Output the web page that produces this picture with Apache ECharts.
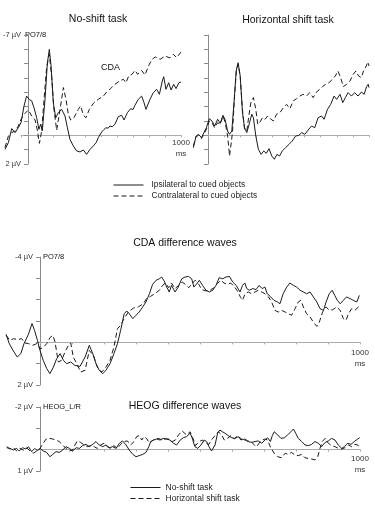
<!DOCTYPE html>
<html>
<head>
<meta charset="utf-8">
<script src="https://cdn.jsdelivr.net/npm/echarts@6/dist/echarts.min.js"></script>
<style>
html, body { margin: 0; padding: 0; background: #fff; }
#box { width: 375px; height: 505px; }
</style>
</head>
<body>
<div id="box"></div>
<script>
// [ms, µV] (negative plotted up)
const noShiftIpsi = [[-100,0.98],[-79,0.51],[-58,-0.47],[-37,-0.19],[-17,-0.53],[0,-0.88],[19,-2.05],[35,-2.74],[52,-2.5],[67,-2.4],[81,-1.93],[98,-1.23],[112,-0.42],[123,-0.77],[133,-0.3],[150,-2.5],[165,-5.07],[177,-6.0],[188,-4.84],[202,-2.28],[217,-1.23],[233,-1.58],[254,-1.81],[275,-1.35],[290,-0.53],[306,0.28],[327,0.74],[348,1.09],[369,1.16],[390,1.02],[410,1.33],[431,0.98],[452,0.74],[470,0.5],[483,0.16],[504,-0.23],[518,-0.4],[531,-0.53],[545,-0.5],[556,-0.65],[570,-0.6],[587,-0.77],[608,-1.3],[629,-1.4],[644,-1.07],[665,-1.58],[685,-1.86],[700,-1.8],[712,-2.09],[733,-2.51],[754,-2.74],[769,-2.28],[781,-1.81],[806,-2.51],[827,-2.98],[848,-3.21],[865,-2.86],[883,-3.79],[892,-4.09],[906,-3.21],[923,-3.67],[938,-3.16],[954,-3.56],[969,-3.26],[987,-3.67],[1000,-3.72]];
const noShiftContra = [[-100,0.86],[-79,0.05],[-58,-0.19],[-37,-0.3],[-17,-0.65],[0,-1.12],[25,-1.53],[46,-1.77],[67,-1.35],[88,-1.07],[102,-0.37],[115,0.56],[129,-0.3],[144,-2.51],[160,-4.72],[177,-5.65],[192,-4.02],[206,-1.81],[223,-0.35],[244,-1.81],[265,-3.33],[281,-2.51],[296,-1.47],[310,-1.07],[331,-1.23],[358,-1.81],[373,-2.05],[390,-1.4],[406,-1.23],[427,-1.81],[452,-2.23],[483,-2.51],[515,-2.74],[535,-3.02],[560,-3.26],[587,-3.56],[615,-3.79],[640,-3.91],[656,-3.67],[673,-4.14],[694,-4.26],[712,-4.53],[729,-4.26],[754,-4.53],[775,-4.21],[790,-4.65],[802,-4.95],[819,-5.3],[840,-5.47],[869,-5.3],[900,-5.53],[931,-5.4],[952,-5.65],[973,-5.42],[1000,-5.81]];

const horizIpsi = [[-91,0.86],[-74,0.05],[-58,-0.07],[-41,0.16],[-25,-0.19],[-10,-0.53],[8,-1.16],[25,-1.0],[41,-0.65],[60,-1.12],[76,-0.84],[93,-1.4],[107,-1.07],[122,-0.3],[134,-0.07],[148,-0.3],[163,-2.51],[175,-4.49],[187,-5.07],[200,-4.14],[214,-1.58],[227,-0.53],[241,-0.19],[258,-0.88],[272,-1.47],[282,-1.23],[297,0.05],[313,0.98],[330,1.33],[346,1.09],[362,1.26],[379,0.93],[396,1.44],[412,1.67],[428,1.33],[445,1.44],[461,1.09],[482,0.86],[503,0.63],[523,0.4],[544,0.05],[564,0],[581,-0.19],[601,-0.07],[622,-0.37],[643,-0.65],[663,-0.53],[684,-1.23],[705,-1.35],[721,-1.12],[742,-1.81],[762,-2.16],[783,-2.74],[799,-2.51],[820,-2.86],[837,-2.28],[853,-2.63],[870,-2.98],[891,-2.74],[911,-2.98],[932,-2.74],[953,-3.02],[970,-2.86],[985,-3.4],[995,-3.56],[1000,-3.33]];
const horizContra = [[-91,0.74],[-74,0.09],[-58,0],[-41,0.23],[-25,-0.07],[-10,-0.42],[8,-1.0],[25,-0.88],[41,-0.53],[60,-0.88],[76,-0.77],[93,-1.35],[107,-0.88],[122,0.05],[134,1.44],[142,1.33],[152,-0.19],[165,-2.74],[177,-4.6],[187,-4.95],[200,-4.14],[214,-1.81],[227,-0.42],[241,-0.3],[255,-1.47],[268,-2.4],[282,-2.63],[297,-1.81],[309,-0.77],[323,-0.93],[338,-1.23],[354,-1.12],[371,-1.35],[387,-1.16],[406,-1.0],[426,-1.47],[447,-1.58],[468,-1.93],[488,-2.16],[509,-1.86],[529,-2.4],[550,-2.56],[570,-2.74],[591,-2.86],[612,-2.74],[632,-2.98],[653,-2.63],[674,-3.02],[694,-3.21],[711,-3.4],[731,-3.56],[752,-3.67],[772,-3.91],[791,-4.14],[807,-4.49],[824,-4.02],[840,-3.4],[861,-3.56],[882,-3.79],[902,-4.26],[919,-4.49],[935,-4.14],[952,-4.02],[966,-4.49],[983,-4.84],[993,-5.12],[1000,-4.84]];

const cdaNoShift = [[-106,-0.38],[-96,0.06],[-83,0.41],[-71,0.69],[-60,0.53],[-50,0.06],[-36,-0.38],[-25,-0.88],[-17,-0.56],[-8,-0.09],[0,0.38],[10,0.84],[21,1.23],[31,1.47],[42,1.16],[52,0.77],[63,0.53],[73,0.84],[83,1.0],[96,0.92],[109,1.08],[125,1.13],[141,0.69],[154,0.14],[165,0.53],[175,1.0],[185,1.31],[196,1.47],[206,1.31],[219,1.0],[231,0.53],[242,0.06],[252,-0.56],[263,-1.34],[271,-1.47],[279,-1.34],[290,-1.11],[300,-1.27],[310,-1.42],[321,-1.66],[331,-1.89],[342,-2.28],[352,-2.72],[363,-2.91],[373,-2.98],[380,-3.06],[388,-2.88],[396,-2.59],[404,-2.36],[411,-2.67],[422,-2.36],[432,-2.59],[443,-2.98],[453,-3.06],[464,-3.09],[474,-2.98],[481,-2.59],[490,-2.75],[498,-2.91],[508,-2.67],[519,-2.44],[529,-2.36],[540,-2.44],[550,-2.67],[560,-3.03],[571,-2.98],[581,-3.06],[592,-3.09],[602,-2.83],[613,-2.67],[625,-2.36],[633,-2.67],[640,-2.78],[646,-2.52],[654,-2.44],[665,-2.52],[675,-2.47],[685,-2.67],[694,-2.52],[703,-2.59],[710,-2.28],[721,-2.13],[731,-1.97],[742,-1.89],[750,-1.81],[760,-2.28],[771,-2.59],[781,-2.78],[792,-2.67],[802,-2.59],[813,-2.44],[823,-2.36],[833,-2.28],[844,-2.36],[854,-2.13],[865,-1.89],[875,-1.58],[886,-1.5],[894,-1.89],[904,-2.28],[913,-2.44],[921,-2.2],[929,-1.97],[938,-1.81],[948,-1.97],[958,-2.13],[969,-2.05],[979,-1.97],[990,-1.89],[998,-2.2]];
const cdaHoriz = [[-106,-0.33],[-94,-0.09],[-83,-0.17],[-71,-0.13],[-57,-0.17],[-47,0.03],[-36,0.06],[-23,0.14],[-10,0.06],[0,0.3],[10,0.25],[21,0.06],[31,-0.22],[40,-0.33],[47,-0.02],[57,0.92],[68,0.84],[78,0.45],[89,0.14],[96,0.03],[104,0.69],[115,1.0],[127,1.39],[141,1.31],[154,0.38],[167,0.61],[179,1.16],[193,1.39],[206,1.16],[219,0.84],[231,0.22],[242,-0.64],[252,-0.8],[260,-1.03],[276,-1.42],[292,-1.61],[307,-1.66],[323,-1.81],[333,-2.05],[346,-2.16],[359,-2.28],[373,-2.44],[383,-2.67],[392,-2.78],[402,-2.56],[411,-2.78],[422,-2.52],[433,-2.67],[444,-2.83],[454,-2.72],[465,-2.56],[475,-2.75],[485,-2.91],[496,-2.72],[506,-2.47],[519,-2.41],[531,-2.44],[544,-2.56],[554,-2.75],[565,-2.91],[575,-2.78],[585,-2.72],[596,-2.78],[606,-2.63],[617,-2.41],[627,-2.1],[633,-1.97],[641,-2.28],[651,-2.36],[661,-2.28],[672,-2.36],[682,-2.44],[693,-2.36],[703,-2.28],[714,-2.13],[724,-1.89],[734,-1.5],[745,-1.42],[755,-1.5],[766,-1.42],[776,-1.34],[786,-1.27],[797,-1.58],[807,-1.89],[815,-1.97],[823,-1.66],[833,-1.34],[844,-1.19],[854,-0.95],[865,-0.75],[873,-0.95],[883,-1.42],[894,-1.66],[904,-1.5],[915,-1.53],[927,-1.66],[938,-1.5],[948,-1.11],[956,-1.03],[964,-1.34],[974,-1.58],[984,-1.5],[995,-1.66],[998,-1.63]];

const heogNoShift = [[-104,-0.09],[-94,-0.06],[-83,0.02],[-73,-0.06],[-65,0.06],[-54,-0.09],[-44,-0.03],[-36,-0.14],[-26,0.09],[-16,-0.06],[-8,0.06],[0,-0.06],[10,0.06],[21,0.13],[31,0.33],[40,0.22],[50,0.09],[60,0.13],[71,0.02],[81,-0.14],[92,-0.06],[102,0.06],[113,-0.09],[123,-0.06],[133,-0.19],[144,-0.25],[154,-0.14],[165,-0.25],[175,-0.38],[185,-0.22],[196,-0.14],[206,-0.22],[217,-0.09],[227,-0.14],[238,-0.06],[248,-0.3],[258,-0.41],[269,-0.22],[279,0.02],[290,0.22],[300,0.33],[310,0.28],[321,0.22],[331,0.13],[340,-0.14],[346,-0.38],[354,-0.45],[365,-0.5],[375,-0.45],[385,-0.53],[396,-0.5],[406,-0.45],[417,-0.3],[427,-0.22],[438,-0.45],[448,-0.56],[458,-0.61],[469,-0.77],[476,-0.53],[484,-0.14],[493,-0.06],[503,-0.22],[513,-0.45],[521,-0.38],[528,-0.14],[536,0.06],[547,-0.22],[555,-0.77],[562,-0.92],[570,-0.84],[578,-0.77],[588,-0.66],[599,-0.56],[609,-0.53],[620,-0.61],[630,-0.5],[641,-0.45],[651,-0.38],[661,-0.34],[672,-0.38],[682,-0.41],[693,-0.3],[703,-0.45],[711,-0.56],[720,-0.38],[726,-0.66],[732,-0.84],[743,-0.69],[753,-0.53],[764,-0.56],[774,-0.69],[784,-0.84],[792,-0.97],[799,-0.77],[807,-0.53],[818,-0.38],[828,-0.22],[839,-0.19],[849,-0.25],[859,-0.38],[870,-0.3],[880,-0.14],[891,-0.34],[901,-0.41],[911,-0.53],[922,-0.45],[932,-0.22],[943,-0.06],[951,-0.14],[961,-0.3],[972,-0.25],[982,-0.38],[993,-0.5],[999,-0.56]];
const heogHoriz = [[-104,-0.14],[-94,-0.03],[-83,-0.09],[-73,0.06],[-63,-0.06],[-52,0.02],[-42,-0.09],[-31,0.06],[-21,0.17],[-10,0.06],[0,-0.06],[10,-0.3],[19,-0.5],[29,-0.53],[40,-0.5],[50,-0.45],[60,-0.38],[71,-0.22],[81,-0.06],[92,0.06],[102,0.02],[109,-0.22],[117,-0.41],[127,-0.34],[138,-0.22],[148,-0.14],[158,-0.19],[169,-0.14],[179,-0.06],[190,-0.22],[200,-0.3],[210,-0.14],[221,-0.06],[231,-0.19],[242,-0.06],[252,-0.25],[263,-0.38],[273,-0.41],[283,-0.22],[294,-0.38],[302,-0.61],[310,-0.66],[318,-0.45],[325,-0.61],[333,-0.53],[342,-0.3],[350,-0.41],[361,-0.5],[371,-0.53],[381,-0.45],[392,-0.5],[402,-0.5],[413,-0.38],[423,-0.45],[433,-0.69],[444,-0.88],[450,-0.9],[458,-0.69],[469,-0.84],[476,-0.61],[486,-0.19],[497,-0.38],[507,-0.45],[518,-0.3],[528,-0.25],[538,-0.5],[549,-0.69],[557,-0.84],[568,-0.69],[576,-0.45],[586,-0.53],[597,-0.66],[607,-0.5],[618,-0.66],[628,-0.45],[638,-0.53],[649,-0.41],[659,-0.38],[670,-0.22],[677,-0.14],[684,-0.3],[695,-0.45],[703,-0.5],[711,-0.45],[722,-0.06],[732,0.17],[743,0.33],[755,0.38],[766,0.17],[776,0.22],[786,0.13],[797,0.25],[807,0.28],[818,0.22],[828,0.38],[839,0.41],[849,0.44],[859,0.48],[868,0.33],[875,-0.06],[882,-0.38],[891,-0.53],[901,-0.3],[911,-0.19],[922,-0.14],[932,-0.06],[943,-0.03],[953,-0.09],[964,-0.22],[974,-0.14],[984,-0.25],[993,-0.22],[999,-0.06]];

// axis ranges (µV), end labels, legends
const yRanges = [[-7, 2], [-7, 2], [-4, 2], [-2, 1]];
const yEndLabels = [["-7 µV", "2 µV"], ["", ""], ["-4 µV", "2 µV"], ["-2 µV", "1 µV"]];
const xEndLabel = ["1000\nms", "", "1000\nms", "1000\nms"];
const tStart = -110, tEnd = 1000;
const legendTop = ["Ipsilateral to cued objects", "Contralateral to cued objects"];
const legendBottom = ["No-shift task", "Horizontal shift task"];

const font = "Liberation Sans, Arial, sans-serif";
const ink = "#1a1a1a";
const axisCol = "#8a8a8a";
const zeroCol = "#aaaaaa";

let myCharts = echarts.init(document.getElementById("box"));

// pixel boxes for the four panels: left/width = 0..1000 ms
const boxes = [
	{ left: 21, top: 35, width: 160, height: 129, xMargin: 2 },
	{ left: 208, top: 35, width: 161, height: 129, xMargin: 2 },
	{ left: 40, top: 257, width: 320, height: 128, xMargin: 5 },
	{ left: 40, top: 407, width: 320, height: 64, xMargin: 4 },
];

let grid = [], xAxis = [], yAxis = [];
boxes.forEach((b, i) => {
	const [lo, hi] = yRanges[i];
	const pxPerMs = b.width / 1000;
	// data grid (axes hidden), reaches back into the baseline
	grid.push({ left: b.left + tStart * pxPerMs, top: b.top, width: (tEnd - tStart) * pxPerMs, height: b.height });
	xAxis.push({ gridIndex: 3 * i, type: "value", min: tStart, max: tEnd, show: false });
	yAxis.push({ gridIndex: 3 * i, type: "value", inverse: true, min: lo, max: hi, show: false });

	// y axis at 0 ms
	grid.push({ left: b.left, top: b.top, width: b.width, height: b.height });
	xAxis.push({ gridIndex: 3 * i + 1, type: "value", min: 0, max: 1000, show: false });
	yAxis.push({
		gridIndex: 3 * i + 1, type: "value", inverse: true, min: lo, max: hi, interval: 1,
		axisLine: { show: true, lineStyle: { color: axisCol, width: 1 } },
		axisTick: { show: true, length: 4, lineStyle: { color: axisCol } },
		splitLine: { show: false },
		axisLabel: {
			margin: 7, fontSize: 7.5, fontFamily: font, color: "#333",
			showMinLabel: true, showMaxLabel: true,
			formatter: (v) => (v === lo ? yEndLabels[i][0] : v === hi ? yEndLabels[i][1] : ""),
		},
	});

	// time axis along 0 µV
	grid.push({ left: b.left, top: b.top, width: b.width, height: b.height * (0 - lo) / (hi - lo) });
	yAxis.push({ gridIndex: 3 * i + 2, type: "value", min: 0, max: 1, show: false });
	xAxis.push({
		gridIndex: 3 * i + 2, type: "value", min: 0, max: 1000, interval: 100,
		axisLine: { show: true, onZero: false, lineStyle: { color: zeroCol, width: 1 } },
		axisTick: { show: true, length: 2, lineStyle: { color: zeroCol } },
		splitLine: { show: false },
		axisLabel: {
			showMinLabel: true, showMaxLabel: true, margin: b.xMargin,
			fontSize: 8, fontFamily: font, color: "#333", lineHeight: 11,
			formatter: (v) => (v === 1000 ? xEndLabel[i] : ""),
		},
	});
});

function wave(name, data, panel, dashed) {
	return {
		name: name, type: "line", data: data,
		xAxisIndex: 3 * panel, yAxisIndex: 3 * panel,
		symbol: "none", clip: false, animation: false,
		lineStyle: { color: ink, width: 1, type: dashed ? [5, 3] : "solid" },
		itemStyle: { color: ink },
	};
}

function label(text, x, y, size, align) {
	return {
		type: "text", x: x, y: y,
		style: { text: text, fontSize: size, fontFamily: font, fill: "#111", textAlign: align || "left", textVerticalAlign: "middle" },
	};
}

let option = {
	animation: false,
	grid: grid,
	xAxis: xAxis,
	yAxis: yAxis,
	legend: [
		{
			data: legendTop, orient: "vertical", left: 113, top: 181, padding: 0,
			itemWidth: 30, itemHeight: 9, itemGap: 3, selectedMode: false,
			itemStyle: { opacity: 0 }, lineStyle: { width: 1 },
			textStyle: { fontSize: 8.3, fontFamily: font, color: "#222", padding: [0, 0, 0, 3] },
		},
		{
			data: legendBottom, orient: "vertical", left: 130, top: 483, padding: 0,
			itemWidth: 30, itemHeight: 9, itemGap: 2, selectedMode: false,
			itemStyle: { opacity: 0 }, lineStyle: { width: 1 },
			textStyle: { fontSize: 8.5, fontFamily: font, color: "#222" },
		},
	],
	graphic: [
		label("No-shift task", 98, 19, 10.5, "center"),
		label("Horizontal shift task", 288, 20, 10.5, "center"),
		label("CDA", 101, 68, 9),
		label("PO7/8", 25, 35, 7.5),
		label("CDA difference waves", 185, 243, 10.5, "center"),
		label("PO7/8", 43, 257, 7.5),
		label("HEOG difference waves", 185, 406, 10.5, "center"),
		label("HEOG_L/R", 43, 407, 7.5),
	],
	series: [
		wave(legendTop[0], noShiftIpsi, 0, false),
		wave(legendTop[1], noShiftContra, 0, true),
		wave(legendTop[0], horizIpsi, 1, false),
		wave(legendTop[1], horizContra, 1, true),
		wave(legendBottom[0], cdaNoShift, 2, false),
		wave(legendBottom[1], cdaHoriz, 2, true),
		wave(legendBottom[0], heogNoShift, 3, false),
		wave(legendBottom[1], heogHoriz, 3, true),
	],
};
myCharts.setOption(option);
</script>
</body>
</html>
